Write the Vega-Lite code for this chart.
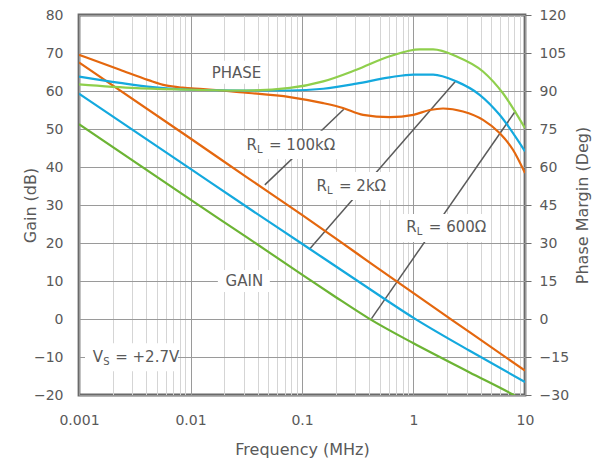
{
  "$schema": "https://vega.github.io/schema/vega-lite/v6.json",
  "width": 446,
  "height": 380,
  "autosize": {"type": "none"},
  "padding": {"left": 79, "top": 15, "right": 82, "bottom": 69},
  "background": "white",
  "config": {
    "view": {"stroke": "#6a6a6a", "strokeWidth": 2.8},
    "axis": {
      "labelFont": "DejaVu Sans", "labelFontSize": 14, "labelColor": "#595959",
      "titleFont": "DejaVu Sans", "titleFontSize": 16, "titleFontWeight": "normal", "titleColor": "#595959",
      "domain": false
    },
    "text": {"font": "DejaVu Sans", "fontSize": 15, "fill": "#595959"}
  },
  "datasets": {
    "gain": [
      {"f": 0.001, "v": 67.5, "c": "g100k"}, {"f": 0.01, "v": 47.5, "c": "g100k"}, {"f": 0.0316, "v": 37.4, "c": "g100k"},
      {"f": 0.1, "v": 27.4, "c": "g100k"}, {"f": 0.316, "v": 17.1, "c": "g100k"}, {"f": 1, "v": 6.8, "c": "g100k"},
      {"f": 3.16, "v": -3.4, "c": "g100k"}, {"f": 10, "v": -13.6, "c": "g100k"},
      {"f": 0.001, "v": 59.3, "c": "g2k"}, {"f": 0.01, "v": 39.5, "c": "g2k"}, {"f": 0.0316, "v": 29.6, "c": "g2k"},
      {"f": 0.1, "v": 19.8, "c": "g2k"}, {"f": 0.316, "v": 10.0, "c": "g2k"}, {"f": 1, "v": 0.3, "c": "g2k"},
      {"f": 3.16, "v": -8.3, "c": "g2k"}, {"f": 10, "v": -16.6, "c": "g2k"},
      {"f": 0.001, "v": 51.3, "c": "g600"}, {"f": 0.01, "v": 31.4, "c": "g600"}, {"f": 0.0316, "v": 21.6, "c": "g600"},
      {"f": 0.1, "v": 11.7, "c": "g600"}, {"f": 0.2, "v": 5.8, "c": "g600"}, {"f": 0.4, "v": 0.1, "c": "g600"},
      {"f": 1, "v": -6.4, "c": "g600"}, {"f": 3.16, "v": -14.0, "c": "g600"}, {"f": 8.3, "v": -20.3, "c": "g600"},
      {"f": 10, "v": -21.6, "c": "g600"}
    ],
    "phase": [
      {"f": 0.001, "p": 104.3, "c": "p100k"}, {"f": 0.00233, "p": 98.4, "c": "p100k"}, {"f": 0.0042, "p": 94.3, "c": "p100k"},
      {"f": 0.006, "p": 92.2, "c": "p100k"}, {"f": 0.0085, "p": 91.3, "c": "p100k"}, {"f": 0.013, "p": 90.8, "c": "p100k"}, {"f": 0.0297, "p": 89.4, "c": "p100k"},
      {"f": 0.0778, "p": 87.6, "c": "p100k"}, {"f": 0.155, "p": 85.2, "c": "p100k"}, {"f": 0.233, "p": 83.3, "c": "p100k"},
      {"f": 0.353, "p": 80.6, "c": "p100k"}, {"f": 0.612, "p": 79.7, "c": "p100k"}, {"f": 1.0, "p": 80.6, "c": "p100k"},
      {"f": 1.4, "p": 82.5, "c": "p100k"}, {"f": 1.84, "p": 83.1, "c": "p100k"}, {"f": 2.78, "p": 81.9, "c": "p100k"},
      {"f": 4.2, "p": 78.6, "c": "p100k"}, {"f": 5.92, "p": 73.4, "c": "p100k"}, {"f": 7.8, "p": 66.8, "c": "p100k"},
      {"f": 10, "p": 57.6, "c": "p100k"},
      {"f": 0.001, "p": 95.7, "c": "p2k"}, {"f": 0.00233, "p": 93.2, "c": "p2k"}, {"f": 0.00458, "p": 91.5, "c": "p2k"},
      {"f": 0.0099, "p": 90.5, "c": "p2k"}, {"f": 0.03, "p": 90.2, "c": "p2k"}, {"f": 0.0778, "p": 90.2, "c": "p2k"},
      {"f": 0.155, "p": 90.9, "c": "p2k"}, {"f": 0.308, "p": 92.9, "c": "p2k"}, {"f": 0.612, "p": 95.4, "c": "p2k"},
      {"f": 1.0, "p": 96.5, "c": "p2k"}, {"f": 1.5, "p": 96.5, "c": "p2k"}, {"f": 2.42, "p": 93.8, "c": "p2k"},
      {"f": 3.92, "p": 88.5, "c": "p2k"}, {"f": 5.92, "p": 80.6, "c": "p2k"}, {"f": 10, "p": 66.2, "c": "p2k"},
      {"f": 0.001, "p": 92.6, "c": "p600"}, {"f": 0.00329, "p": 91.1, "c": "p600"}, {"f": 0.0099, "p": 90.5, "c": "p600"},
      {"f": 0.0317, "p": 90.2, "c": "p600"}, {"f": 0.0778, "p": 91.2, "c": "p600"}, {"f": 0.155, "p": 93.8, "c": "p600"},
      {"f": 0.308, "p": 98.4, "c": "p600"}, {"f": 0.612, "p": 103.7, "c": "p600"}, {"f": 1.14, "p": 106.4, "c": "p600"},
      {"f": 1.5, "p": 106.4, "c": "p600"}, {"f": 2.42, "p": 103.7, "c": "p600"}, {"f": 4.2, "p": 97.7, "c": "p600"},
      {"f": 6.34, "p": 89.1, "c": "p600"}, {"f": 10, "p": 75.3, "c": "p600"}
    ],
    "leaders": [
      {"f": 0.0464, "g": 35.3, "f2": 0.237, "g2": 55.2},
      {"f": 0.116, "g": 18.3, "f2": 2.37, "g2": 62.5},
      {"f": 0.42, "g": 0.1, "f2": 8.24, "g2": 54.8}
    ],
    "boxes": [
      {"f": 0.01374, "f2": 0.0484, "g": 67.96, "g2": 61.9},
      {"f": 0.0272, "f2": 0.2137, "g": 49.51, "g2": 42.13},
      {"f": 0.1151, "f2": 0.625, "g": 38.71, "g2": 31.33},
      {"f": 0.736, "f2": 4.72, "g": 27.64, "g2": 20.26},
      {"f": 0.0176, "f2": 0.0515, "g": 12.89, "g2": 7.09},
      {"f": 0.001132, "f2": 0.00771, "g": -6.35, "g2": -13.73}
    ],
    "plain": [
      {"f": 0.02588, "g": 64.66, "t": "PHASE"},
      {"f": 0.0304, "g": 10.0, "t": "GAIN"}
    ],
    "subs": [
      {"f": 0.0318, "g": 45.8, "a": "R", "b": "L", "r": "= 100kΩ"},
      {"f": 0.1349, "g": 35.0, "a": "R", "b": "L", "r": "= 2kΩ"},
      {"f": 0.863, "g": 24.1, "a": "R", "b": "L", "r": "= 600Ω"},
      {"f": 0.001327, "g": -10.0, "a": "V", "b": "S", "r": "= +2.7V"}
    ]
  },
  "encoding": {
    "x": {
      "field": "f", "type": "quantitative",
      "scale": {"type": "log", "domain": [0.001, 10], "nice": false},
      "axis": {
        "title": "Frequency (MHz)",
        "values": [0.001, 0.002, 0.003, 0.004, 0.005, 0.006, 0.007, 0.008, 0.009,
                   0.01, 0.02, 0.03, 0.04, 0.05, 0.06, 0.07, 0.08, 0.09,
                   0.1, 0.2, 0.3, 0.4, 0.5, 0.6, 0.7, 0.8, 0.9,
                   1, 2, 3, 4, 5, 6, 7, 8, 9, 10],
        "format": "~g",
        "labelExpr": "indexof([0.001,0.01,0.1,1,10], datum.value) >= 0 ? datum.label : ''",
        "labelOverlap": false,
        "labelBound": false,
        "labelFlush": false,
        "ticks": false,
        "labelPadding": 18,
        "titlePadding": 14,
        "gridColor": {"condition": {"test": "indexof([0.001,0.01,0.1,1,10], datum.value) >= 0", "value": "#9a9a9a"}, "value": "#d5d5d5"},
        "gridWidth": 1
      }
    }
  },
  "layer": [
    {
      "encoding": {
        "y": {
          "field": "g", "type": "quantitative",
          "scale": {"domain": [-20, 80], "nice": false, "zero": false},
          "axis": {"title": "Gain (dB)", "values": [-20, -10, 0, 10, 20, 30, 40, 50, 60, 70, 80], "ticks": false, "labelPadding": 16, "titleX": -41, "titleY": 190, "gridColor": "#9a9a9a"}
        }
      },
      "layer": [
        {
          "data": {"name": "leaders"},
          "mark": {"type": "rule", "color": "#5a5a5a", "strokeWidth": 1.5},
          "encoding": {"x2": {"field": "f2"}, "y2": {"field": "g2"}}
        },
        {
          "data": {"name": "boxes"},
          "mark": {"type": "rect", "fill": "white"},
          "encoding": {"x2": {"field": "f2"}, "y2": {"field": "g2"}}
        },
        {
          "data": {"name": "plain"},
          "mark": {"type": "text", "align": "center", "baseline": "middle"},
          "encoding": {"text": {"field": "t"}}
        },
        {
          "data": {"name": "subs"},
          "mark": {"type": "text", "align": "left", "baseline": "middle"},
          "encoding": {"text": {"field": "a"}}
        },
        {
          "data": {"name": "subs"},
          "mark": {"type": "text", "align": "left", "baseline": "middle", "fontSize": 10, "dx": 10.5, "dy": 5},
          "encoding": {"text": {"field": "b"}}
        },
        {
          "data": {"name": "subs"},
          "mark": {"type": "text", "align": "left", "baseline": "middle", "dx": 22.5},
          "encoding": {"text": {"field": "r"}}
        },
        {
          "data": {"name": "gain"},
          "mark": {"type": "line", "strokeWidth": 2.2, "interpolate": "monotone", "clip": true},
          "encoding": {
            "y": {"field": "v", "type": "quantitative"},
            "color": {"field": "c", "type": "nominal", "legend": null,
              "scale": {"domain": ["g100k", "g2k", "g600", "p100k", "p2k", "p600"],
                        "range": ["#e4670e", "#14a9de", "#6cb434", "#e4670e", "#14a9de", "#8fcf4c"]}}
          }
        }
      ]
    },
    {
      "data": {"name": "phase"},
      "mark": {"type": "line", "strokeWidth": 2.2, "interpolate": "monotone", "clip": true},
      "encoding": {
        "y": {
          "field": "p", "type": "quantitative",
          "scale": {"domain": [-30, 120], "nice": false, "zero": false},
          "axis": {"orient": "right", "title": "Phase Margin (Deg)", "values": [-30, -15, 0, 15, 30, 45, 60, 75, 90, 105, 120], "grid": false, "tickSize": 6, "tickColor": "#6e6e6e", "labelPadding": 8, "titleAngle": 270, "titleX": 65, "titleY": 190}
        },
        "color": {"field": "c", "type": "nominal", "legend": null}
      }
    }
  ],
  "resolve": {"scale": {"y": "independent"}}
}
